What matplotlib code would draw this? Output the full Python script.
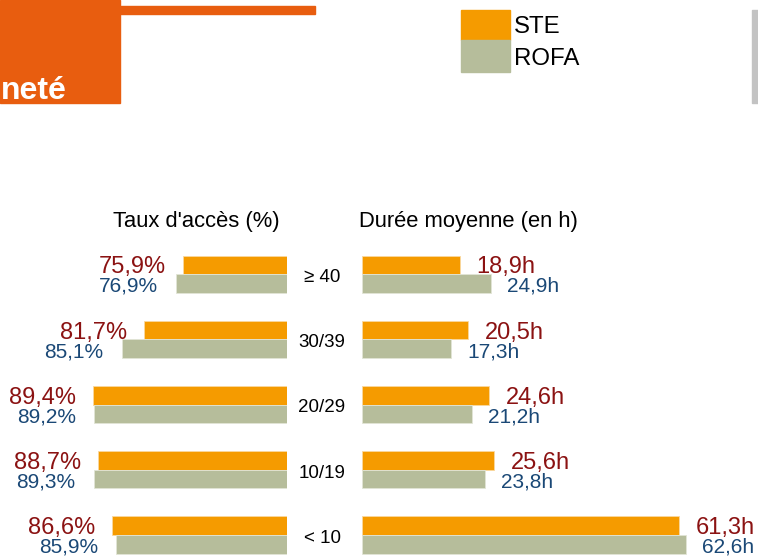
import matplotlib
matplotlib.use("Agg")
import matplotlib.pyplot as plt
from matplotlib.patches import Rectangle
from matplotlib.transforms import blended_transform_factory

plt.rcParams['font.family'] = ['Liberation Sans', 'DejaVu Sans']

# ---- data ----
categories = ["≥ 40", "30/39", "20/29", "10/19", "< 10"]
acces_ste = [75.9, 81.7, 89.4, 88.7, 86.6]
acces_rofa = [76.9, 85.1, 89.2, 89.3, 85.9]
duree_ste = [18.9, 20.5, 24.6, 25.6, 61.3]
duree_rofa = [24.9, 17.3, 21.2, 23.8, 62.6]
series_names = ["STE", "ROFA"]
header_left = "Taux d'accès (%)"
header_right = "Durée moyenne (en h)"
title_fragment = "neté"

# ---- styles ----
C_STE = "#F59B00"
C_ROFA = "#B6BD9B"
C_RED = "#8B1212"
C_BLUE = "#1A4876"
C_BRAND = "#E85D0F"

W, H = 758, 556
fig = plt.figure(figsize=(W / 100, H / 100), dpi=100)


def fx(px):
    return px / W


def fy(py):
    return 1 - py / H


# decorative slide elements
fig.patches.append(Rectangle((fx(0), fy(103)), fx(120), 103 / H,
                             transform=fig.transFigure, color=C_BRAND, zorder=0))
fig.patches.append(Rectangle((fx(120), fy(14)), fx(195), 8 / H,
                             transform=fig.transFigure, color=C_BRAND, zorder=0))
fig.patches.append(Rectangle((fx(752), fy(103)), fx(6), 93 / H,
                             transform=fig.transFigure, color="#C3C3C3", zorder=0))
fig.text(fx(1), fy(99), title_fragment, color="white", fontsize=23,
         fontweight="bold", ha="left", va="baseline")

# legend
fig.patches.append(Rectangle((fx(461), fy(40)), fx(49), 30 / H,
                             transform=fig.transFigure, color=C_STE))
fig.patches.append(Rectangle((fx(461), fy(72)), fx(49), 32 / H,
                             transform=fig.transFigure, color=C_ROFA))
fig.text(fx(514), fy(33), series_names[0], fontsize=17.3, ha="left", va="baseline")
fig.text(fx(514), fy(65), series_names[1], fontsize=17.3, ha="left", va="baseline")

# headers
fig.text(fx(196), fy(227), header_left, fontsize=15.8, ha="center", va="baseline")
fig.text(fx(468), fy(227), header_right, fontsize=15.8, ha="center", va="baseline")

# axes geometry
top_px, bot_px = 240, 556
row0_px, row_sp = 274.2, 65.2
y_top = -(row0_px - top_px) / row_sp
y_bot = (bot_px - row0_px) / row_sp
bh = 18.6 / row_sp

axL = fig.add_axes([fx(0), fy(bot_px), fx(287), (bot_px - top_px) / H])
axR = fig.add_axes([fx(362), fy(bot_px), fx(396), (bot_px - top_px) / H])

scaleL = 6.65
v0 = 60.25
axL.set_xlim(v0 + 287 / scaleL, v0)
axR.set_xlim(0, 396 / 5.17)

for ax in (axL, axR):
    ax.set_ylim(y_bot, y_top)
    ax.axis("off")

idx = list(range(len(categories)))
ys_ste = [i - bh / 2 for i in idx]
ys_rofa = [i + bh / 2 for i in idx]

axL.barh(ys_ste, acces_ste, height=bh, color=C_STE, edgecolor="#FAD9A0", linewidth=0.6)
axL.barh(ys_rofa, acces_rofa, height=bh, color=C_ROFA, edgecolor="#E2E5D6", linewidth=0.6)
axR.barh(ys_ste, duree_ste, height=bh, color=C_STE, edgecolor="#FAD9A0", linewidth=0.6)
axR.barh(ys_rofa, duree_rofa, height=bh, color=C_ROFA, edgecolor="#E2E5D6", linewidth=0.6)


def fmt(v, suffix):
    return f"{v:.1f}".replace(".", ",") + suffix


for i in idx:
    # left labels
    axL.annotate(fmt(acces_ste[i], "%"), (acces_ste[i], i), xytext=(-12.2, 0.6),
                 textcoords="offset points", ha="right", va="baseline",
                 fontsize=17, color=C_RED, annotation_clip=False)
    axL.annotate(fmt(acces_rofa[i], "%"), (acces_rofa[i], i + bh), xytext=(-13.3, 0.6),
                 textcoords="offset points", ha="right", va="baseline",
                 fontsize=15, color=C_BLUE, annotation_clip=False)
    # right labels
    axR.annotate(fmt(duree_ste[i], "h"), (duree_ste[i], i), xytext=(12.2, 0.6),
                 textcoords="offset points", ha="left", va="baseline",
                 fontsize=17, color=C_RED, annotation_clip=False)
    axR.annotate(fmt(duree_rofa[i], "h"), (duree_rofa[i], i + bh), xytext=(11.5, 0.6),
                 textcoords="offset points", ha="left", va="baseline",
                 fontsize=15, color=C_BLUE, annotation_clip=False)

# category labels between the panels
tr = blended_transform_factory(fig.transFigure, axL.transData)
for i, c in enumerate(categories):
    fig.text(fx(322), i + 0.05, c, transform=tr, fontsize=13.5,
             ha="center", va="center")

fig.savefig("out.png", dpi=100)
